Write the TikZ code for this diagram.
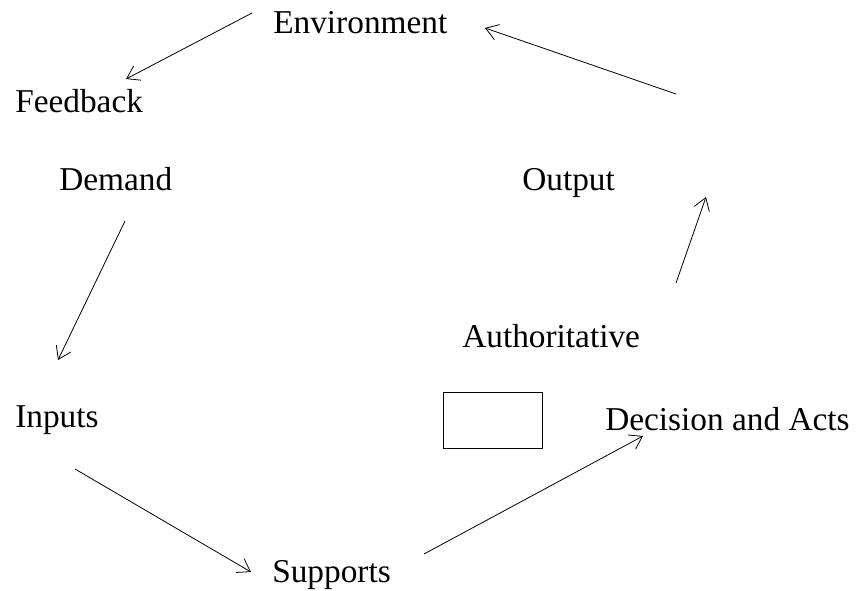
\documentclass[tikz,border=0pt]{standalone}
\usepackage{fontspec}
\setmainfont{Liberation Serif}
\usepackage{tikz}
\usetikzlibrary{arrows.meta,positioning}

\begin{document}
\begin{tikzpicture}[x=0.75pt,y=-0.75pt,
  term/.style={anchor=base west,inner sep=0pt,font=\fontsize{25}{30}\selectfont},
  flow/.style={-{Straight Barb[length=9pt,width=12pt]},line width=0.6pt}]
\useasboundingbox (0,0) rectangle (859,590);

% The terms of the cycle
\node[term] (env) at (273,33) {Environment};
\node[term] (fb) at (15,112) {Feedback};
\node[term] (dem) at (59,190) {Demand};
\node[term] (out) at (522,190) {Output};
\node[term] (auth) at (462,347) {Authoritative};
\node[term] (inp) at (15,427) {Inputs};
\node[term] (dec) at (605,430) {Decision and Acts};
\node[term] (sup) at (272,582) {Supports};

% Empty box
\node[draw,line width=0.6pt,minimum width=74.25pt,minimum height=42pt,inner sep=0pt] (box) at (492.5,420) {};

% Arrow ends
\coordinate (a1) at (252,13);   \coordinate (b1) at (126,79);
\coordinate (a2) at (676,94);   \coordinate (b2) at (485,28);
\coordinate (a3) at (125,221);  \coordinate (b3) at (58,360);
\coordinate (a4) at (676,283);  \coordinate (b4) at (706,197);
\coordinate (a5) at (75,469);   \coordinate (b5) at (251,572);
\coordinate (a6) at (424,554);  \coordinate (b6) at (643,436);

% Arrows
\foreach \s/\t in {a1/b1, a2/b2, a3/b3, a4/b4, a5/b5, a6/b6} {
    \draw[flow] (\s) -- (\t);
}
\end{tikzpicture}
\end{document}
